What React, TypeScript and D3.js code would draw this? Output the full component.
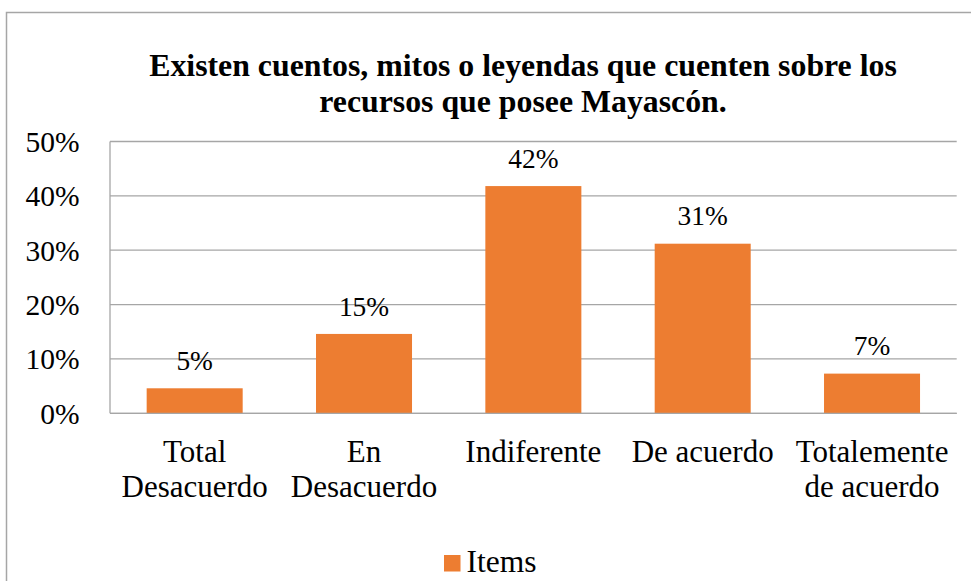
import React from "react";
import * as d3 from "d3";

const categories: string[][] = [
  ["Total", "Desacuerdo"],
  ["En", "Desacuerdo"],
  ["Indiferente"],
  ["De acuerdo"],
  ["Totalemente", "de acuerdo"],
];
const values: number[] = [0.046, 0.146, 0.418, 0.312, 0.073];
const valueLabels: string[] = ["5%", "15%", "42%", "31%", "7%"];
const yTicks: number[] = [0, 0.1, 0.2, 0.3, 0.4, 0.5];
const titleLines: string[] = [
  "Existen cuentos, mitos o leyendas que cuenten sobre los",
  "recursos que posee Mayascón.",
];
const seriesName = "Items";

const W = 971;
const H = 581;
const ORANGE = "#ed7d31";
const SERIF = "Liberation Serif";

export default function App() {
  const left = 110;
  const right = 956.7;
  const top = 141.5;
  const bottom = 413.3;
  const x = d3
    .scaleBand<number>()
    .domain(d3.range(values.length))
    .range([left, right])
    .paddingInner(0.433)
    .paddingOuter(0.2165);
  const y = d3.scaleLinear().domain([0, 0.5]).range([bottom, top]);
  const fmt = d3.format(".0%");

  return (
    <div style={{ position: "absolute", left: 0, top: 0 }}>
      <svg width={W} height={H} style={{ display: "block", fontFamily: SERIF }}>
        <rect x={0} y={0} width={W} height={H} fill="#fff" />
        <rect
          x={6.5}
          y={12.5}
          width={1100}
          height={700}
          fill="none"
          stroke="#a6a6a6"
          strokeWidth={1.5}
        />
        {titleLines.map((t, i) => (
          <text
            key={i}
            x={523}
            y={75.7 + i * 36.6}
            textAnchor="middle"
            style={{ fontFamily: SERIF, fontWeight: 700, fontSize: "31.8px" }}
            fill="#000"
          >
            {t}
          </text>
        ))}
        {yTicks.map((t) => (
          <g key={t}>
            <line
              x1={left}
              x2={right}
              y1={y(t)}
              y2={y(t)}
              stroke="#a6a6a6"
              strokeWidth={1.3}
            />
            <text
              x={79.5}
              y={y(t) + 10.5}
              textAnchor="end"
              style={{ fontFamily: SERIF, fontSize: "29.5px" }}
              fill="#000"
            >
              {fmt(t)}
            </text>
          </g>
        ))}
        <line x1={left} x2={left} y1={top} y2={bottom} stroke="#a6a6a6" strokeWidth={1.3} />
        {values.map((v, i) => (
          <g key={i}>
            <rect
              x={x(i)}
              y={y(v)}
              width={x.bandwidth()}
              height={bottom - y(v)}
              fill={ORANGE}
            />
            <text
              x={(x(i) as number) + x.bandwidth() / 2}
              y={y(v) - 18.3}
              textAnchor="middle"
              style={{ fontFamily: SERIF, fontSize: "27.4px" }}
              fill="#000"
            >
              {valueLabels[i]}
            </text>
            {categories[i].map((line, j) => (
              <text
                key={j}
                x={(x(i) as number) + x.bandwidth() / 2}
                y={461.7 + j * 35.6}
                textAnchor="middle"
                style={{ fontFamily: SERIF, fontSize: "31px" }}
                fill="#000"
              >
                {line}
              </text>
            ))}
          </g>
        ))}
        <line x1={left} x2={right} y1={bottom} y2={bottom} stroke="#a6a6a6" strokeWidth={1.3} />
        <rect x={444} y={555} width={16.5} height={16.5} fill={ORANGE} />
        <text x={466.5} y={572.3} style={{ fontFamily: SERIF, fontSize: "31.5px" }} fill="#000">
          {seriesName}
        </text>
      </svg>
    </div>
  );
}
